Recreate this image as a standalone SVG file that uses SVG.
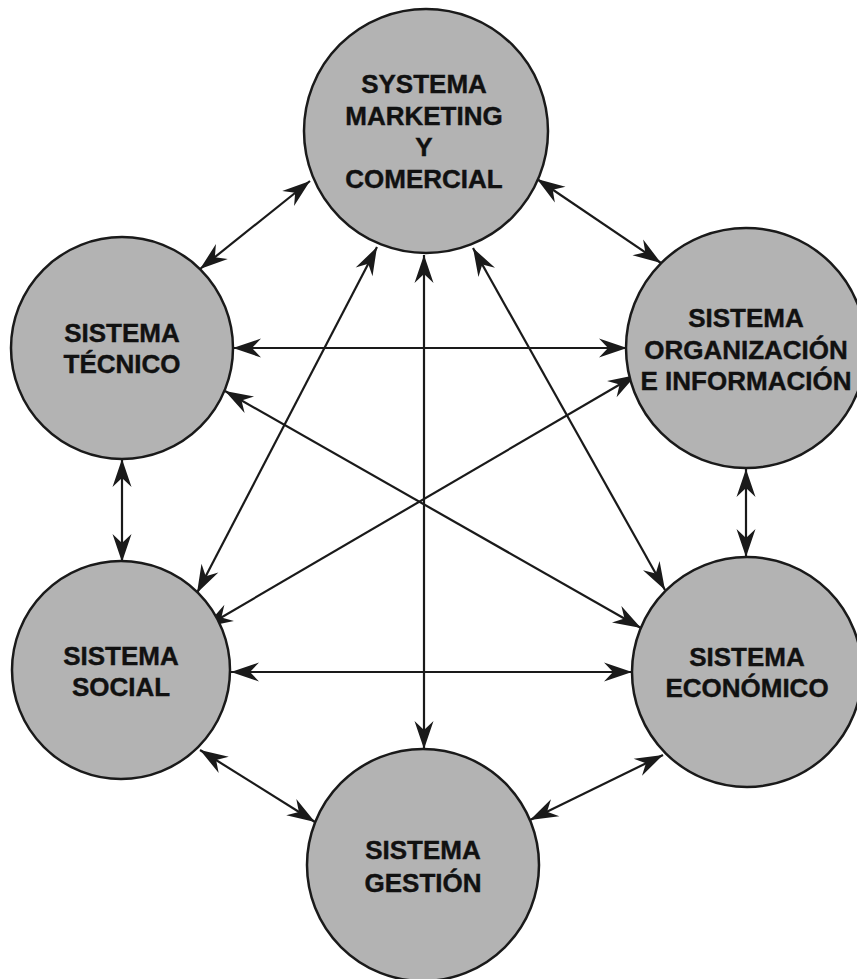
<svg xmlns="http://www.w3.org/2000/svg" width="857" height="979" viewBox="0 0 857 979">
<style>
.node circle{fill:#b3b3b3;stroke:#1a1a1a;stroke-width:2.5}
.node text{font-family:"Liberation Sans",Arial,sans-serif;font-weight:bold;font-size:26px;fill:#111;text-anchor:middle;stroke:#111;stroke-width:0.4}
.conn line{stroke:#1a1a1a;stroke-width:2.2;marker-start:url(#ah);marker-end:url(#ah)}
</style>
<defs>
<marker id="ah" markerUnits="userSpaceOnUse" viewBox="-31 -11 33 22" refX="0" refY="0" markerWidth="33" markerHeight="22" orient="auto-start-reverse">
<path d="M0,0 L-28,-9.5 L-19,0 L-28,9.5 Z" fill="#1a1a1a"/>
</marker>
</defs>
<rect width="857" height="979" fill="#fff"/>
<g id="connectors" class="conn">
<line x1="310" y1="181" x2="200" y2="269"/>
<line x1="537" y1="179" x2="661" y2="263"/>
<line x1="377" y1="247" x2="197" y2="593"/>
<line x1="424" y1="255" x2="424" y2="749"/>
<line x1="473" y1="248" x2="665" y2="590"/>
<line x1="233" y1="348" x2="627" y2="348"/>
<line x1="225" y1="391" x2="641" y2="628"/>
<line x1="122" y1="459" x2="122" y2="562"/>
<line x1="636" y1="375" x2="205" y2="627"/>
<line x1="746" y1="469" x2="746" y2="557"/>
<line x1="231" y1="672" x2="632" y2="672"/>
<line x1="200" y1="750" x2="315" y2="822"/>
<line x1="663" y1="755" x2="530" y2="820"/>
</g>
<g id="marketing" class="node">
<circle cx="426" cy="131" r="122"/>
<text x="424" y="93">SYSTEMA</text>
<text x="424" y="125">MARKETING</text>
<text x="424" y="156">Y</text>
<text x="424" y="188">COMERCIAL</text>
</g>
<g id="tecnico" class="node">
<circle cx="122" cy="348" r="111"/>
<text x="122" y="342">SISTEMA</text>
<text x="122" y="373">TÉCNICO</text>
</g>
<g id="organizacion" class="node">
<circle cx="746" cy="348" r="120"/>
<text x="746" y="327">SISTEMA</text>
<text x="746" y="359">ORGANIZACIÓN</text>
<text x="746" y="390">E INFORMACIÓN</text>
</g>
<g id="social" class="node">
<circle cx="121" cy="670" r="109"/>
<text x="121" y="665">SISTEMA</text>
<text x="121" y="696">SOCIAL</text>
</g>
<g id="economico" class="node">
<circle cx="747" cy="672" r="115"/>
<text x="747" y="666">SISTEMA</text>
<text x="747" y="697">ECONÓMICO</text>
</g>
<g id="gestion" class="node">
<circle cx="423" cy="865" r="116"/>
<text x="423" y="859">SISTEMA</text>
<text x="423" y="892">GESTIÓN</text>
</g>
</svg>
